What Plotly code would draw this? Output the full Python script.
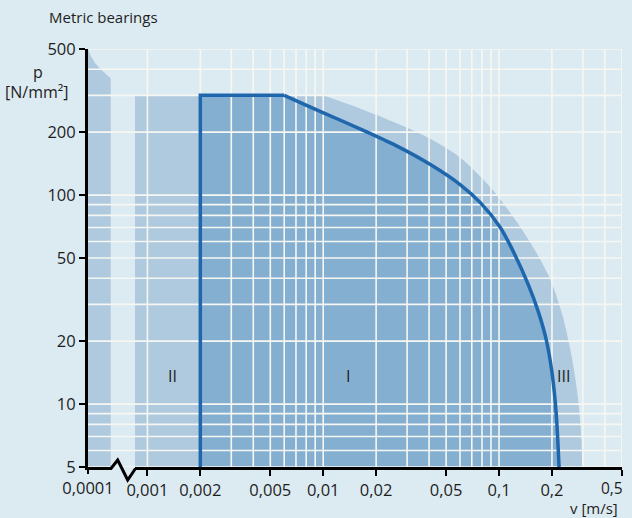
import numpy as np
import plotly.graph_objects as go

# -----------------------------------------------------------
# Data
# -----------------------------------------------------------

# x axis: main ticks (right of the break) and grid values
X_TICKS = [0.001, 0.002, 0.005, 0.01, 0.02, 0.05, 0.1, 0.2, 0.5]
X_TICK_TEXT = ["0,001", "0,002", "0,005", "0,01", "0,02", "0,05", "0,1", "0,2", "0,5"]
X_GRID = [0.001, 0.002, 0.003, 0.004, 0.005, 0.006, 0.007, 0.008, 0.009,
          0.01, 0.02, 0.03, 0.04, 0.05, 0.06, 0.07, 0.08, 0.09,
          0.1, 0.2, 0.3, 0.4, 0.5]

# x axis left of the break
X_LOW_TICKS = [0.0001]
X_LOW_TICK_TEXT = ["0,0001"]

# y axis
Y_TICKS = [5, 10, 20, 50, 100, 200, 500]
Y_TICK_TEXT = ["5", "10", "20", "50", "100", "200", "500"]
Y_GRID = [5, 6, 7, 8, 9, 10, 20, 30, 40, 50, 60, 70, 80, 90, 100, 200, 300, 400, 500]

# small zone left of the axis break
LOW_V = [0.0001, 0.000104, 0.0001096, 0.000117, 0.0001249, 0.0001346]
LOW_P = [500, 460, 429, 403, 384, 361]

# zones II + III: flat top, then the curved outer envelope
FLAT_V = [0.00085, 0.01]
FLAT_P = [300, 300]
OUTER_V = [0.01, 0.0163, 0.0258, 0.0407, 0.0603, 0.0893, 0.124,
           0.161, 0.196, 0.229, 0.261, 0.282, 0.2935, 0.2974]
OUTER_P = [300, 259, 222, 186, 151, 109, 76, 54, 39.4, 26.8, 16.3, 10.5, 7.1, 5]

# zone I limit (blue outline): vertical edge, flat top, curve
ZONE1_EDGE_V = [0.002, 0.002, 0.006]
ZONE1_EDGE_P = [5, 300, 300]
ZONE1_V = [0.006, 0.00966, 0.0163, 0.0258, 0.0407, 0.0603, 0.0783, 0.1017,
           0.1238, 0.1467, 0.1672, 0.1857, 0.2009, 0.2117, 0.2195]
ZONE1_P = [300, 251, 207, 173, 140, 112, 92, 70, 51.3, 37.3, 27.7, 20.3,
           13.8, 8.9, 5]

ZONE_LABELS = ["II", "I", "III"]
ZONE_LABEL_V = [0.00139, 0.0139, 0.2326]
ZONE_LABEL_P = [13.7, 13.7, 13.7]

# -----------------------------------------------------------
# Styling
# -----------------------------------------------------------
BG = "#dcebf2"
LIGHT = "#afc9df"
MID = "#85afd0"
DARK = "#1f67ad"
GRID = "#f6f7f2"
TEXT = "#1e1e1e"
FONT = "Open Sans"

P_MIN, P_MAX = 5, 500
LOW_END = 10 ** -3.733      # right end of the segment before the break
MAIN_START = FLAT_V[0]      # start of the main segment after the break
V_MAX = 0.5

W, H = 632, 518
ML, MR, MT, MB = 88, 10, 49, 51
PW, PH = W - ML - MR, H - MT - MB
SPLIT = 47 / PW

# the last x label sits left of its tick (as in the print): drawn separately
x_tick_text = X_TICK_TEXT[:-1] + [""]


def px(xp):
    return (xp - ML) / PW


def py(yp):
    return (H - MB - yp) / PH


def base(xs):
    """Invisible baseline at the bottom of the chart, for tonexty fills."""
    return go.Scatter(x=[xs[0], xs[-1]], y=[P_MIN, P_MIN], mode="lines",
                      line=dict(width=0), xaxis="x2", yaxis="y", hoverinfo="skip")


def block(xs, ys, color, xaxis="x2"):
    """Straight-edged filled block down to the bottom of the chart."""
    return go.Scatter(x=[xs[0]] + list(xs) + [xs[-1]], y=[P_MIN] + list(ys) + [P_MIN],
                      fill="toself", fillcolor=color, mode="lines", line=dict(width=0),
                      xaxis=xaxis, yaxis="y", hoverinfo="skip")


def curve_fill(xs, ys, color):
    return go.Scatter(x=xs, y=ys, fill="tonexty", fillcolor=color, mode="lines",
                      line=dict(width=0, shape="spline", smoothing=0.8),
                      xaxis="x2", yaxis="y", hoverinfo="skip")


fig = go.Figure()

# zones II / III
fig.add_trace(block(FLAT_V, FLAT_P, LIGHT))
fig.add_trace(base(OUTER_V))
fig.add_trace(curve_fill(OUTER_V, OUTER_P, LIGHT))

# left zone before the break
fig.add_trace(block(LOW_V, LOW_P, LIGHT, xaxis="x"))

# zone I
fig.add_trace(block(ZONE1_EDGE_V[1:], ZONE1_EDGE_P[1:], MID))
fig.add_trace(base(ZONE1_V))
fig.add_trace(curve_fill(ZONE1_V, ZONE1_P, MID))


# grid lines drawn on top of the zones
def grid_trace(xs, ys, xaxis):
    return go.Scatter(x=xs, y=ys, mode="lines", line=dict(color=GRID, width=1.6),
                      xaxis=xaxis, yaxis="y", hoverinfo="skip")


hx, hy = [], []
for p in Y_GRID:
    hx += [MAIN_START, V_MAX, None]
    hy += [p, p, None]
fig.add_trace(grid_trace(hx, hy, "x2"))

hx, hy = [], []
for p in Y_GRID:
    hx += [X_LOW_TICKS[0], LOW_END, None]
    hy += [p, p, None]
fig.add_trace(grid_trace(hx, hy, "x"))

vx, vy = [], []
for v in X_GRID:
    vx += [v, v, None]
    vy += [P_MIN, P_MAX, None]
fig.add_trace(grid_trace(vx, vy, "x2"))

# zone I outline
fig.add_trace(go.Scatter(
    x=ZONE1_EDGE_V, y=ZONE1_EDGE_P, mode="lines",
    line=dict(color=DARK, width=3.5), xaxis="x2", yaxis="y", hoverinfo="skip",
))
fig.add_trace(go.Scatter(
    x=ZONE1_V, y=ZONE1_P, mode="lines",
    line=dict(color=DARK, width=3.5, shape="spline", smoothing=0.8),
    xaxis="x2", yaxis="y", hoverinfo="skip",
))

# zone labels
for lab, v, p in zip(ZONE_LABELS, ZONE_LABEL_V, ZONE_LABEL_P):
    fig.add_annotation(x=np.log10(v), y=np.log10(p), xref="x2", yref="y",
                       text=lab, showarrow=False, font=dict(size=16, color=TEXT))

# last x tick label, right-aligned to its tick
fig.add_annotation(x=np.log10(X_TICKS[-1]), y=py(487.5), xref="x2", yref="paper",
                   text=X_TICK_TEXT[-1], xanchor="right", yanchor="middle",
                   xshift=2, borderpad=0, showarrow=False,
                   font=dict(size=15.5, color=TEXT))

# titles
fig.add_annotation(x=px(47), y=py(17), xref="paper", yref="paper", text="Metric bearings",
                   xanchor="left", yanchor="middle", showarrow=False,
                   font=dict(size=15, color=TEXT))
fig.add_annotation(x=px(38), y=py(72), xref="paper", yref="paper", text="p",
                   xanchor="center", yanchor="middle", showarrow=False,
                   font=dict(size=16, color=TEXT))
fig.add_annotation(x=px(37), y=py(92), xref="paper", yref="paper", text="[N/mm²]",
                   xanchor="center", yanchor="middle", showarrow=False,
                   font=dict(size=16, color=TEXT))
fig.add_annotation(x=px(619), y=py(507.5), xref="paper", yref="paper", text="v [m/s]",
                   xanchor="right", yanchor="middle", borderpad=0, showarrow=False,
                   font=dict(size=15, color=TEXT))

# axis break: bottom line before the break plus the zigzag
zig = [(85, 468.5), (111, 468.5), (117.7, 460), (127.7, 480), (135.5, 468.5)]
path = "M " + " L ".join(f"{px(a):.5f},{py(b):.5f}" for a, b in zig)
fig.add_shape(type="path", path=path, xref="paper", yref="paper",
              line=dict(color="black", width=3))

tick_style = dict(ticks="outside", ticklen=6, tickwidth=2, tickcolor="black",
                  tickfont=dict(size=16.5, color=TEXT, family=FONT),
                  showgrid=False, zeroline=False, fixedrange=True, automargin=False)

fig.update_layout(
    width=W, height=H,
    margin=dict(l=ML, r=MR, t=MT, b=MB, autoexpand=False),
    paper_bgcolor=BG, plot_bgcolor=BG,
    showlegend=False,
    font=dict(family=FONT, size=15, color=TEXT),
    xaxis=dict(type="log", domain=[0, SPLIT], anchor="y",
               range=[np.log10(X_LOW_TICKS[0]), np.log10(LOW_END)],
               tickvals=X_LOW_TICKS, ticktext=X_LOW_TICK_TEXT,
               showline=False, **tick_style),
    xaxis2=dict(type="log", domain=[SPLIT, 1], anchor="y",
                range=[np.log10(MAIN_START), np.log10(V_MAX) + 0.0005],
                tickvals=X_TICKS, ticktext=x_tick_text,
                showline=True, linewidth=3, linecolor="black", **tick_style),
    yaxis=dict(type="log", anchor="x",
               range=[np.log10(P_MIN), np.log10(P_MAX)],
               tickvals=Y_TICKS, ticktext=Y_TICK_TEXT,
               showline=True, linewidth=3, linecolor="black", **tick_style),
)

fig.write_html("out.html", config={"displayModeBar": False},
               post_script="document.body.style.margin='0';document.body.style.overflow='hidden';")
